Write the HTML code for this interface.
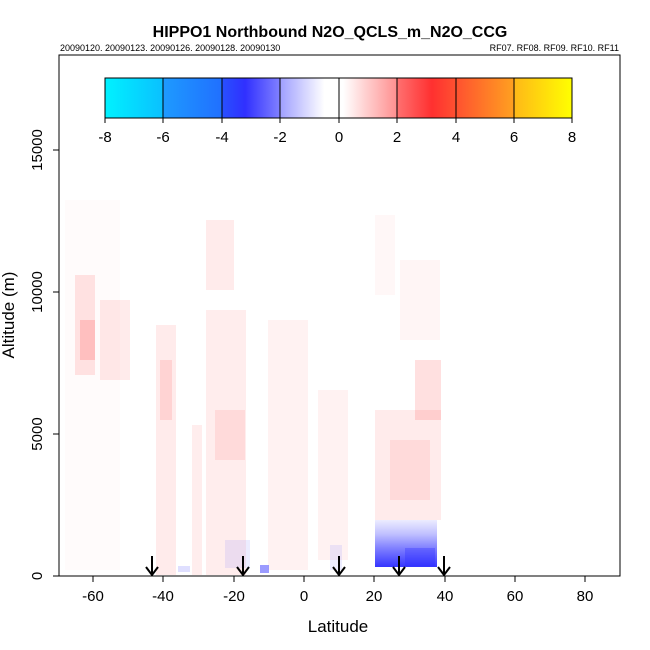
<!DOCTYPE html>
<html><head><style>body{margin:0;background:#fff}svg{display:block}</style></head><body>
<svg width="650" height="650" xmlns="http://www.w3.org/2000/svg" font-family="Liberation Sans, sans-serif">
<defs>
<linearGradient id="cb" x1="105" x2="572" y1="0" y2="0" gradientUnits="userSpaceOnUse">
<stop offset="0" stop-color="#00f2ff"/>
<stop offset="0.124" stop-color="#0ac0ff"/>
<stop offset="0.126" stop-color="#1e9aff"/>
<stop offset="0.249" stop-color="#2070ff"/>
<stop offset="0.251" stop-color="#2850ff"/>
<stop offset="0.3" stop-color="#3030ff"/>
<stop offset="0.374" stop-color="#8080ff"/>
<stop offset="0.376" stop-color="#a0a0ff"/>
<stop offset="0.47" stop-color="#ffffff"/>
<stop offset="0.51" stop-color="#ffffff"/>
<stop offset="0.624" stop-color="#ff9090"/>
<stop offset="0.626" stop-color="#ff7070"/>
<stop offset="0.7" stop-color="#ff3030"/>
<stop offset="0.75" stop-color="#ff5030"/>
<stop offset="0.875" stop-color="#ffa020"/>
<stop offset="0.876" stop-color="#ffb818"/>
<stop offset="1" stop-color="#ffff00"/>
</linearGradient>
<linearGradient id="bl" x1="0" x2="0" y1="0" y2="1">
<stop offset="0" stop-color="#ececff"/><stop offset="0.3" stop-color="#c0c0ff"/><stop offset="0.6" stop-color="#8080ff"/><stop offset="1" stop-color="#3535ff"/>
</linearGradient>
</defs>
<text x="330" y="37" text-anchor="middle" font-size="16" font-weight="bold">HIPPO1 Northbound N2O_QCLS_m_N2O_CCG</text>
<text x="60" y="51" font-size="9">20090120. 20090123. 20090126. 20090128. 20090130</text>
<text x="619" y="51" font-size="9" text-anchor="end">RF07. RF08. RF09. RF10. RF11</text>
<g fill="#ff0000">
<rect x="75" y="275" width="20" height="100" fill-opacity="0.1"/>
<rect x="80" y="320" width="15" height="40" fill-opacity="0.15"/>
<rect x="100" y="300" width="30" height="80" fill-opacity="0.08"/>
<rect x="156" y="325" width="20" height="250" fill-opacity="0.08"/>
<rect x="160" y="360" width="12" height="60" fill-opacity="0.1"/>
<rect x="192" y="425" width="10" height="150" fill-opacity="0.07"/>
<rect x="206" y="220" width="28" height="70" fill-opacity="0.08"/>
<rect x="206" y="310" width="40" height="265" fill-opacity="0.07"/>
<rect x="215" y="410" width="30" height="50" fill-opacity="0.08"/>
<rect x="268" y="320" width="40" height="250" fill-opacity="0.05"/>
<rect x="318" y="390" width="30" height="170" fill-opacity="0.05"/>
<rect x="375" y="215" width="20" height="80" fill-opacity="0.03"/>
<rect x="400" y="260" width="40" height="80" fill-opacity="0.04"/>
<rect x="415" y="360" width="26" height="60" fill-opacity="0.12"/>
<rect x="375" y="410" width="66" height="110" fill-opacity="0.08"/>
<rect x="390" y="440" width="40" height="60" fill-opacity="0.07"/>
<rect x="65" y="200" width="55" height="370" fill-opacity="0.015"/>
</g>
<rect x="375" y="520" width="62" height="47" fill="url(#bl)"/>
<rect x="405" y="548" width="30" height="18" fill="#2828ff" fill-opacity="0.3"/>
<rect x="225" y="540" width="25" height="28" fill="#8080ff" fill-opacity="0.15"/>
<rect x="260" y="565" width="9" height="8" fill="#7070ff" fill-opacity="0.7"/>
<rect x="330" y="545" width="12" height="25" fill="#8080ff" fill-opacity="0.15"/>
<rect x="178" y="566" width="12" height="6" fill="#8080ff" fill-opacity="0.25"/>
<rect x="59" y="55" width="561" height="521" fill="none" stroke="#000"/>
<rect x="105" y="78" width="467" height="40" fill="url(#cb)" stroke="#000"/>
<g stroke="#000" stroke-width="1">
<line x1="163" y1="78" x2="163" y2="123"/><line x1="222" y1="78" x2="222" y2="123"/><line x1="280" y1="78" x2="280" y2="123"/><line x1="339" y1="78" x2="339" y2="123"/><line x1="397" y1="78" x2="397" y2="123"/><line x1="456" y1="78" x2="456" y2="123"/><line x1="514" y1="78" x2="514" y2="123"/><line x1="105" y1="118" x2="105" y2="123"/><line x1="572" y1="118" x2="572" y2="123"/>
<line x1="93" y1="576" x2="93" y2="582"/><line x1="163" y1="576" x2="163" y2="582"/><line x1="234" y1="576" x2="234" y2="582"/><line x1="304" y1="576" x2="304" y2="582"/><line x1="374" y1="576" x2="374" y2="582"/><line x1="445" y1="576" x2="445" y2="582"/><line x1="515" y1="576" x2="515" y2="582"/><line x1="585" y1="576" x2="585" y2="582"/>
<line x1="53" y1="576" x2="59" y2="576"/><line x1="53" y1="434" x2="59" y2="434"/><line x1="53" y1="292" x2="59" y2="292"/><line x1="53" y1="150" x2="59" y2="150"/>
</g>
<g font-size="15" text-anchor="middle">
<text x="105" y="142">-8</text><text x="163" y="142">-6</text><text x="222" y="142">-4</text><text x="280" y="142">-2</text><text x="339" y="142">0</text><text x="397" y="142">2</text><text x="456" y="142">4</text><text x="514" y="142">6</text><text x="572" y="142">8</text>
<text x="93" y="601">-60</text><text x="163" y="601">-40</text><text x="234" y="601">-20</text><text x="304" y="601">0</text><text x="374" y="601">20</text><text x="445" y="601">40</text><text x="515" y="601">60</text><text x="585" y="601">80</text>
<text x="338" y="632" font-size="17">Latitude</text>
</g>
<g font-size="15" text-anchor="middle">
<text transform="translate(42,576) rotate(-90)">0</text>
<text transform="translate(42,434) rotate(-90)">5000</text>
<text transform="translate(42,292) rotate(-90)">10000</text>
<text transform="translate(42,150) rotate(-90)">15000</text>
<text transform="translate(14,315) rotate(-90)" font-size="17">Altitude (m)</text>
</g>
<g stroke="#000" stroke-width="2" fill="none">
<path d="M152 556V575M146 567L152 575L158 567"/>
<path d="M243 556V575M237 567L243 575L249 567"/>
<path d="M339 556V575M333 567L339 575L345 567"/>
<path d="M399 556V575M393 567L399 575L405 567"/>
<path d="M444 556V575M438 567L444 575L450 567"/>
</g>
</svg>
</body></html>
